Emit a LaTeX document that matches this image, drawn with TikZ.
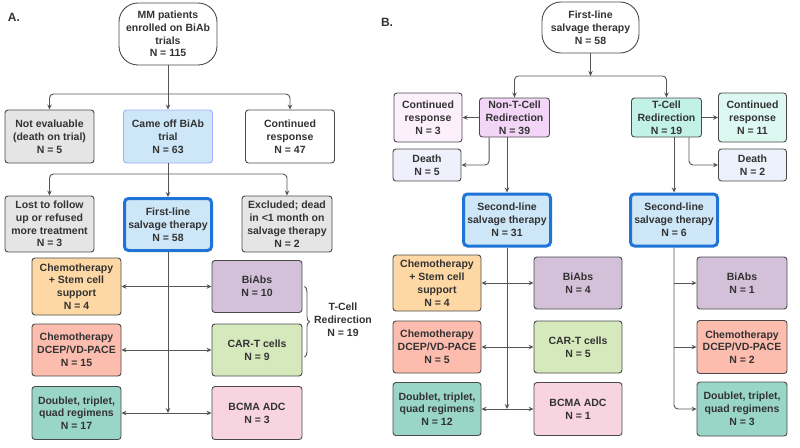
\documentclass[tikz,border=0pt]{standalone}
\usepackage{fontspec}
\setmainfont{Liberation Sans}
\usetikzlibrary{arrows.meta,calc,decorations.pathreplacing}
\definecolor{boxline}{HTML}{4A4A4A}
\definecolor{linkgray}{HTML}{555555}
\definecolor{txt}{HTML}{333333}
\definecolor{salvblue}{HTML}{1F74D6}
\definecolor{lblue}{HTML}{CDE6F8}
\definecolor{lgray}{HTML}{E5E5E5}
\definecolor{orng}{HTML}{FED8A4}
\definecolor{salmon}{HTML}{FCBCAE}
\definecolor{purp}{HTML}{D3C0D9}
\definecolor{grn}{HTML}{D6E9BC}
\definecolor{teal}{HTML}{99D6C8}
\definecolor{pnk}{HTML}{F8D4E0}
\definecolor{nontfill}{HTML}{F3D6F7}
\definecolor{cthree}{HTML}{FCF0FC}
\definecolor{dfive}{HTML}{EFF0FB}
\definecolor{tfill}{HTML}{C2F1E6}
\definecolor{celeven}{HTML}{DDF7F1}
\definecolor{dtwo}{HTML}{EBF2FB}

\begin{document}
\begin{tikzpicture}[x=1pt,y=-1pt,
  >={Stealth[length=5pt,width=4.5pt]},
  box/.style={draw=boxline,line width=0.9pt,rounded corners=3pt,text=txt,align=center,
    font=\fontsize{10.5}{12.8}\selectfont\bfseries,inner sep=1pt,minimum width=89pt,minimum height=53pt},
  start/.style={box,fill=white,rounded corners=19pt,minimum width=98pt},
  salvage/.style={box,draw=salvblue,line width=3pt,fill=lblue,rounded corners=4pt,minimum width=87pt,minimum height=52pt},
  small/.style={box,minimum width=70pt,minimum height=39pt},
  side/.style={box,minimum width=68pt,minimum height=49pt},
  link/.style={draw=linkgray,line width=0.9pt,->},
  panel/.style={text=txt,font=\fontsize{12}{14}\selectfont\bfseries}]
\useasboundingbox (0,0) rectangle (800,447);

\node[panel] (labA) at (14,17) {A.};
\node[panel] (labB) at (387,22) {B.};

% panel A
\node[start,minimum height=62pt] (mm) at (168,34) {MM patients\\enrolled on BiAb\\trials\\N = 115};
\node[box,fill=lgray] (noteval) at (49.5,136.5) {Not evaluable\\(death on trial)\\N = 5};
\node[box,fill=lblue,draw=lblue!60!blue!70!white] (came) at (168,136.5) {Came off BiAb\\trial\\N = 63};
\node[box,fill=white] (cont47) at (290,136.5) {Continued\\response\\N = 47};
\node[box,fill=lgray,minimum height=56pt] (lost) at (49.5,224) {Lost to follow\\up or refused\\more treatment\\N = 3};
\node[salvage] (first) at (168,224.5) {First-line\\salvage therapy\\N = 58};
\node[box,fill=lgray,minimum height=56pt,minimum width=90pt] (excl) at (287,224) {Excluded; dead\\in <1 month on\\salvage therapy\\N = 2};
\node[box,fill=orng,minimum height=57pt] (chemA) at (76.5,286.5) {Chemotherapy\\+ Stem cell\\support\\N = 4};
\node[box,fill=purp,minimum height=52pt,minimum width=90pt] (biA) at (257,286.5) {BiAbs\\N = 10};
\node[box,fill=salmon,minimum height=52pt] (dcepA) at (76.5,350) {Chemotherapy\\DCEP/VD-PACE\\N = 15};
\node[box,fill=grn,minimum height=52pt,minimum width=90pt] (cartA) at (257,350) {CAR-T cells\\N = 9};
\node[box,fill=teal] (dblA) at (76.5,413) {Doublet, triplet,\\quad regimens\\N = 17};
\node[box,fill=pnk,minimum width=90pt] (bcmaA) at (257,413) {BCMA ADC\\N = 3};
\node[text=txt,align=center,font=\fontsize{10.5}{12.8}\selectfont\bfseries] (tcA) at (343,320) {T-Cell\\Redirection\\N = 19};

\coordinate (a1) at (168,94);
\coordinate (a2) at (168,174);
\draw[link] (mm.south) -- (came.north);
\draw[link,rounded corners=4pt] (a1) -| (noteval.north);
\draw[link,rounded corners=4pt] (a1) -| (cont47.north);
\draw[link] (came.south) -- (first.north);
\draw[link,rounded corners=4pt] (a2) -| (lost.north);
\draw[link,rounded corners=4pt] (a2) -| (excl.north);
\draw[link] (first.south) -- (first.south |- dblA.east);
\draw[link,<->] (chemA.east) -- (biA.west);
\draw[link,<->] (dcepA.east) -- (cartA.west);
\draw[link,<->] (dblA.east) -- (bcmaA.west);
\draw[linkgray,line width=0.9pt,decorate,decoration={brace,amplitude=5pt}]
  ($(biA.east)+(2,0)$) -- ($(cartA.east)+(2,7)$);

% panel B
\node[start,minimum width=97pt,minimum height=51pt] (fl) at (590.5,27.5) {First-line\\salvage therapy\\N = 58};
\node[small,fill=nontfill] (nont) at (514.5,117.5) {Non-T-Cell\\Redirection\\N = 39};
\node[side,fill=cthree] (cont3) at (428,117.5) {Continued\\response\\N = 3};
\node[side,fill=dfive,minimum height=32pt] (death5) at (427,165) {Death\\N = 5};
\node[salvage] (sec31) at (507,220) {Second-line\\salvage therapy\\N = 31};
\node[small,fill=tfill] (tcell) at (666.5,117.5) {T-Cell\\Redirection\\N = 19};
\node[side,fill=celeven] (cont11) at (752.5,117.5) {Continued\\response\\N = 11};
\node[side,fill=dtwo,minimum height=32pt] (death2) at (752.5,165) {Death\\N = 2};
\node[salvage] (sec6) at (674,220) {Second-line\\salvage therapy\\N = 6};
\node[box,fill=orng,minimum width=88pt,minimum height=56pt] (chemB) at (437,283) {Chemotherapy\\+ Stem cell\\support\\N = 4};
\node[box,fill=purp,minimum width=88pt,minimum height=52pt] (biB) at (578,283) {BiAbs\\N = 4};
\node[box,fill=salmon,minimum width=88pt,minimum height=52pt] (dcepB) at (437,347) {Chemotherapy\\DCEP/VD-PACE\\N = 5};
\node[box,fill=grn,minimum width=88pt,minimum height=52pt] (cartB) at (578,347) {CAR-T cells\\N = 5};
\node[box,fill=teal,minimum width=88pt] (dblB) at (437,409) {Doublet, triplet,\\quad regimens\\N = 12};
\node[box,fill=pnk,minimum width=88pt] (bcmaB) at (578,409) {BCMA ADC\\N = 1};
\node[box,fill=purp,minimum width=90pt,minimum height=52pt] (bi6) at (742,283) {BiAbs\\N = 1};
\node[box,fill=salmon,minimum width=90pt,minimum height=53pt] (dcep6) at (742,347) {Chemotherapy\\DCEP/VD-PACE\\N = 2};
\node[box,fill=teal,minimum width=90pt,minimum height=54pt] (dbl6) at (742,409) {Doublet, triplet,\\quad regimens\\N = 3};

\coordinate (b1) at (590.5,76);
\draw[link] (fl.south) -- (b1);
\draw[link,rounded corners=4pt] (b1) -| (nont.north);
\draw[link,rounded corners=4pt] (b1) -| (tcell.north);
\draw[link] (nont.west) -- (cont3.east);
\draw[link,rounded corners=4pt] ($(nont.south west)+(10,0)$) |- (death5.east);
\draw[link] (sec31.north |- nont.south) -- (sec31.north);
\draw[link] (tcell.east) -- (cont11.west);
\draw[link,rounded corners=4pt] ($(tcell.south east)+(-13,0)$) |- (death2.west);
\draw[link] (sec6.north |- tcell.south) -- (sec6.north);
\draw[link] (sec31.south) -- (sec31.south |- dblB.east);
\draw[link,<->] (chemB.east) -- (biB.west);
\draw[link,<->] (dcepB.east) -- (cartB.west);
\draw[link,<->] (dblB.east) -- (bcmaB.west);
\draw[link,rounded corners=4pt] (sec6.south) |- (dbl6.west);
\draw[link] (sec6.south |- bi6.west) -- (bi6.west);
\draw[link] (sec6.south |- dcep6.west) -- (dcep6.west);
\end{tikzpicture}
\end{document}
